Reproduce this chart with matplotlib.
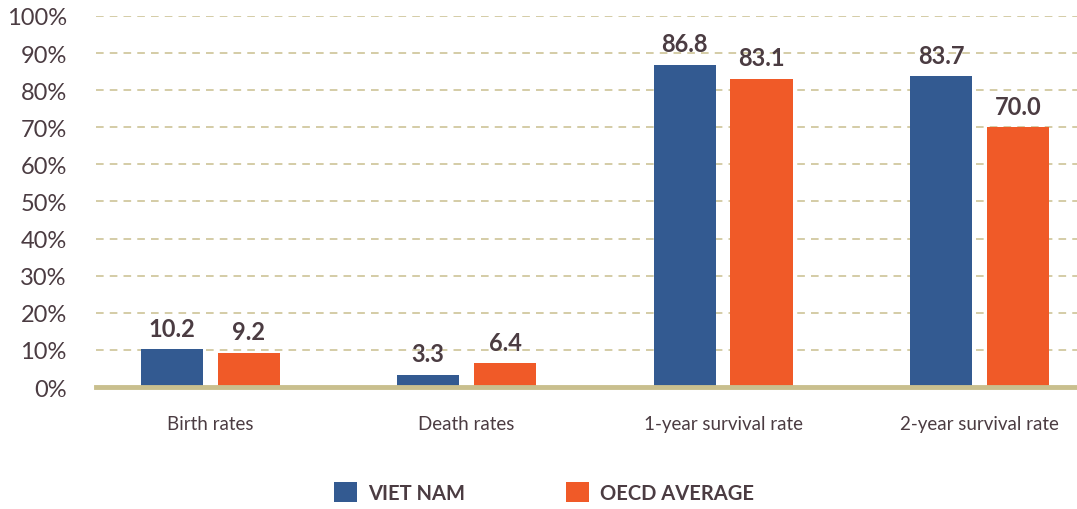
import matplotlib.pyplot as plt
import numpy as np

categories = ["Birth rates", "Death rates", "1-year survival rate", "2-year survival rate"]
viet_nam = [10.2, 3.3, 86.8, 83.7]
oecd_avg = [9.2, 6.4, 83.1, 70.0]
series_names = ["VIET NAM", "OECD AVERAGE"]
yticks = list(range(0, 101, 10))

blue = "#335a91"
orange = "#f05a28"
grid_col = "#c9bf8e"
text_col = "#4b3c42"

plt.rcParams["font.family"] = ["Lato", "DejaVu Sans"]

fig = plt.figure(figsize=(10.77, 5.10), dpi=100)
ax = fig.add_axes([0.0891, 0.2392, 0.9109, 0.7275])

x = np.arange(len(categories))
w = 0.242
off = 0.15
b1 = ax.bar(x - off, viet_nam, w, color=blue, label=series_names[0], zorder=3)
b2 = ax.bar(x + off, oecd_avg, w, color=orange, label=series_names[1], zorder=3)

for bars, vals in ((b1, viet_nam), (b2, oecd_avg)):
    for r, v in zip(bars, vals):
        ax.text(r.get_x() + r.get_width() / 2, v + 2.6, f"{v:.1f}", ha="center", va="bottom",
                fontsize=17, fontweight="bold", color=text_col)

ax.set_xlim(-0.445, 3.38)
ax.set_ylim(0, 100)
ax.set_yticks(yticks)
ax.set_yticklabels([f"{t}%" for t in yticks], fontsize=17, color=text_col)
ax.set_xticks(x)
ax.set_xticklabels(categories, fontsize=13.5, color=text_col)
ax.tick_params(axis="both", length=0)
ax.tick_params(axis="y", pad=21)
ax.tick_params(axis="x", pad=20)

for t in yticks[1:]:
    ax.axhline(t, color=grid_col, lw=1.1, ls=(0, (5, 4)), zorder=1)
ax.axhline(0, color=grid_col, lw=3.5, zorder=4, clip_on=False)

for s in ax.spines.values():
    s.set_visible(False)

leg = fig.legend(handles=[b1, b2], labels=series_names, loc="center", bbox_to_anchor=(0.505, 0.032),
                 ncol=2, frameon=False, handlelength=1.15, handleheight=1.15, handletextpad=0.55,
                 columnspacing=5.0, prop={"size": 14.5, "weight": "bold"})
for t in leg.get_texts():
    t.set_color(text_col)

fig.savefig("out.png", dpi=100)
